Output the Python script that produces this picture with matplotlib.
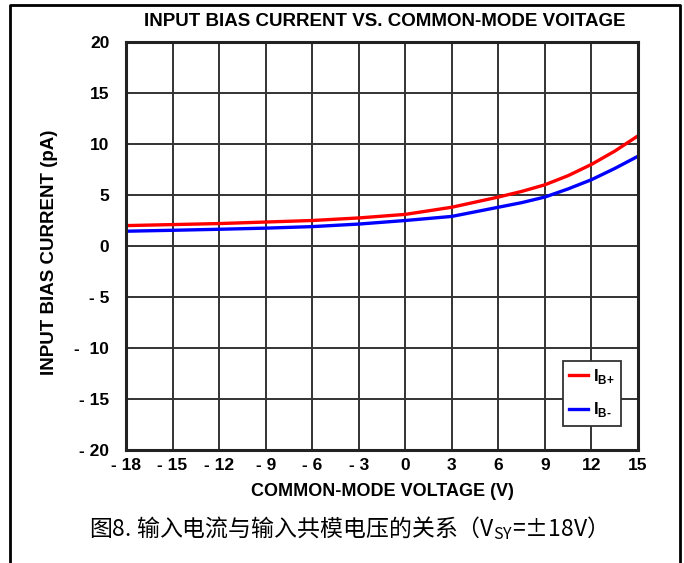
#!/usr/bin/env python3
# Input bias current vs common-mode voltage, figure 8 redraw

import matplotlib
matplotlib.use("Agg")
from matplotlib import pyplot as plt
from matplotlib.lines import Line2D

# Data (V, pA)
vcm = [-18, -15, -12, -9, -6, -3, 0, 3, 6, 7.5, 9, 10.5, 12, 13.5, 15]
ib_plus = [2.0, 2.1, 2.2, 2.35, 2.5, 2.75, 3.1, 3.8, 4.8, 5.35, 6.0, 6.9, 8.0, 9.3, 10.8]
ib_minus = [1.45, 1.54, 1.64, 1.75, 1.9, 2.15, 2.5, 2.9, 3.8, 4.25, 4.8, 5.6, 6.5, 7.6, 8.8]

xticks = [-18, -15, -12, -9, -6, -3, 0, 3, 6, 9, 12, 15]
xlabels = ["- 18", "- 15", "- 12", "- 9", "- 6", "- 3", "0", "3", "6", "9", "12", "15"]
yticks = [-20, -15, -10, -5, 0, 5, 10, 15, 20]
ylabels = ["- 20", "- 15", "-  10", "- 5", "0", "5", "10", "15", "20"]

sans = ["Liberation Sans", "DejaVu Sans"]
cjk = ["Noto Sans CJK SC", "DejaVu Sans"]

if __name__ == '__main__':
    plt.rcParams["mathtext.fontset"] = "custom"
    plt.rcParams["mathtext.rm"] = "Liberation Sans:bold"
    fig = plt.figure(figsize=(6.84, 5.63), dpi=100)
    ax = fig.add_axes([126/684, 1 - 450/563, (638-126)/684, (450-42)/563])

    ax.plot(vcm, ib_plus, color="#ff0000", lw=2.4, label="I$_{\\mathregular{B{+}}}$")
    ax.plot(vcm, ib_minus, color="#0000ff", lw=2.4, label="I$_{\\mathregular{B\u2010}}$")

    ax.set_xlim(-18, 15)
    ax.set_ylim(-20, 20)
    ax.set_xticks(xticks)
    ax.set_xticklabels(xlabels)
    ax.set_yticks(yticks)
    ax.set_yticklabels(ylabels)
    for lab in ax.get_xticklabels() + ax.get_yticklabels():
        lab.set_family(sans)
        lab.set_fontweight("bold")
        lab.set_fontsize(12.5)
    ax.tick_params(axis="x", length=0, pad=6)
    ax.tick_params(axis="y", length=0, pad=12)
    ax.grid(True, color="#333333", lw=1.4)
    ax.set_axisbelow(True)
    for sp in ax.spines.values():
        sp.set_linewidth(2.2)
        sp.set_color("#222222")

    ax.set_xlabel("COMMON-MODE VOLTAGE (V)", family=sans, fontweight="bold", fontsize=13)
    ax.xaxis.set_label_coords(0.5, -(483-450)/408, transform=ax.transAxes)
    ax.set_ylabel("INPUT BIAS CURRENT (pA)", family=sans, fontweight="bold", fontsize=13.5)
    ax.yaxis.set_label_coords(-(126-58)/512, 0.5 - 6/408)
    fig.text(385/684, 1 - 21/563, "INPUT BIAS CURRENT VS. COMMON-MODE VOITAGE",
             family=sans, fontweight="bold", fontsize=13.5, ha="center", va="center")

    leg = ax.legend(loc="lower right", bbox_to_anchor=((621-126)/512, (450-426)/408),
                    borderaxespad=0, handlelength=1.1, fancybox=False,
                    edgecolor="#333333", framealpha=1,
                    prop={"family": sans, "weight": "bold", "size": 12},
                    labelspacing=0.85, borderpad=0.4, handletextpad=0.3)
    leg.get_frame().set_linewidth(1.3)

    fig.text(342/684, 1 - 528/563, "图8. 输入电流与输入共模电压的关系（V$_{\\mathregular{SY}}$=±18V）",
             family=cjk, fontsize=16.5, ha="center", va="center")

    # outer frame: left, top, right
    fx = [10/684, 10/684, 680/684, 680/684]
    fy = [0, 1 - 5/563, 1 - 5/563, 0]
    fig.add_artist(Line2D(fx, fy, color="black", lw=2.0, transform=fig.transFigure))

    fig.savefig("out.png", dpi=100)
